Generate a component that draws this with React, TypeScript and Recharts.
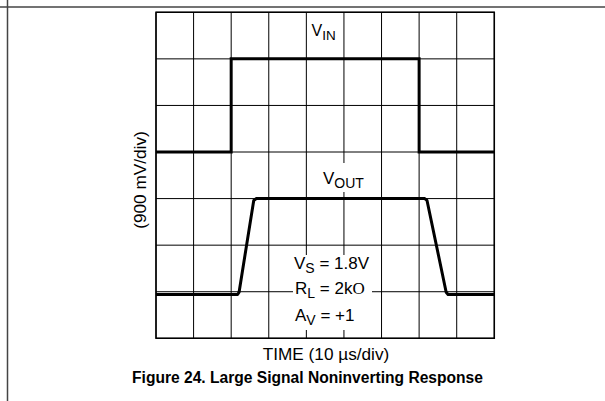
import React from "react";
import {
  LineChart,
  Line,
  XAxis,
  YAxis,
  CartesianGrid,
  ReferenceArea,
} from "recharts";

// scope screen: 9 time divisions, 7 voltage divisions
const timeDivs = [0, 1, 2, 3, 4, 5, 6, 7, 8, 9];
const voltDivs = [0, 1, 2, 3, 4, 5, 6, 7];

// input step (in divisions)
const vinTime = [0, 2, 2, 7, 7, 9];
const vinLevel = [4, 4, 6, 6, 4, 4];

// output (slew limited)
const voutTime = [0, 2.17, 2.21, 2.6, 2.67, 7.15, 7.21, 7.72, 7.77, 9];
const voutLevel = [0.94, 0.94, 0.99, 2.96, 3.0, 3.0, 2.96, 0.99, 0.94, 0.94];

const vinData = vinTime.map((t, i) => ({ t, v: vinLevel[i] }));
const voutData = voutTime.map((t, i) => ({ t, v: voutLevel[i] }));

const FONT = "'Liberation Sans', Arial, Helvetica, sans-serif";

export default function App() {
  return (
    <div
      style={{
        position: "absolute",
        left: 0,
        top: 0,
        width: 605,
        height: 401,
        background: "#fff",
        fontFamily: FONT,
      }}
    >
      <LineChart
        width={605}
        height={401}
        margin={{ top: 12.3, right: 110.7, left: 156, bottom: 62.7 }}
      >
        <XAxis
          type="number"
          dataKey="t"
          domain={[0, 9]}
          ticks={timeDivs}
          hide
          allowDataOverflow
        />
        <YAxis
          type="number"
          dataKey="v"
          domain={[0, 7]}
          ticks={voltDivs}
          hide
          allowDataOverflow
        />
        <CartesianGrid stroke="#000" strokeWidth={1} />
        <ReferenceArea
          x1={0}
          x2={9}
          y1={0}
          y2={7}
          fill="none"
          fillOpacity={0}
          stroke="#000"
          strokeWidth={1.5}
        />
        <Line
          data={vinData}
          dataKey="v"
          type="linear"
          stroke="#000"
          strokeWidth={3}
          dot={false}
          isAnimationActive={false}
        />
        <Line
          data={voutData}
          dataKey="v"
          type="linear"
          stroke="#000"
          strokeWidth={3}
          strokeLinejoin="round"
          dot={false}
          isAnimationActive={false}
        />
      </LineChart>

      <svg
        width={605}
        height={401}
        style={{ position: "absolute", left: 0, top: 0, pointerEvents: "none" }}
        fontFamily={FONT}
      >
        {/* page frame lines */}
        <line x1={0} y1={7} x2={605} y2={7} stroke="#444" strokeWidth={1.5} />
        <line x1={7.5} y1={0} x2={7.5} y2={401} stroke="#444" strokeWidth={1.5} />

        {/* label backgrounds hiding the grid */}
        <rect x={312} y={163} width={62} height={29} fill="#fff" />
        <rect x={293} y={255} width={79} height={75} fill="#fff" />

        <text x={311.5} y={35.5} fontSize={16} fill="#000">
          V<tspan fontSize={13.5} dy={4}>IN</tspan>
        </text>
        <text x={323} y={183.5} fontSize={17} fill="#000">
          V<tspan fontSize={14} dy={4}>OUT</tspan>
        </text>

        <text x={294} y={268.5} fontSize={17} fill="#000">
          V<tspan fontSize={14} dy={4}>S</tspan>
          <tspan dy={-4}> = 1.8V</tspan>
        </text>
        <text x={295} y={293.5} fontSize={17} fill="#000">
          R<tspan fontSize={14} dy={4}>L</tspan>
          <tspan dy={-4}> = 2k</tspan>
          <tspan fontFamily="'Liberation Serif', serif">O</tspan>
        </text>
        <text x={295} y={320.5} fontSize={17} fill="#000">
          A<tspan fontSize={14} dy={4}>V</tspan>
          <tspan dy={-4}> = +1</tspan>
        </text>

        <text
          x={146}
          y={180}
          fontSize={17.2}
          textAnchor="middle"
          transform="rotate(-90, 146, 180)"
          fill="#000"
        >
          (900 mV/div)
        </text>
        <text x={326} y={360} fontSize={17.2} textAnchor="middle" fill="#000">
          TIME (10 µs/div)
        </text>
        <text
          x={307.5}
          y={382.5}
          fontSize={15.6}
          fontWeight="bold"
          textAnchor="middle"
          fill="#000"
        >
          Figure 24. Large Signal Noninverting Response
        </text>
      </svg>
    </div>
  );
}
